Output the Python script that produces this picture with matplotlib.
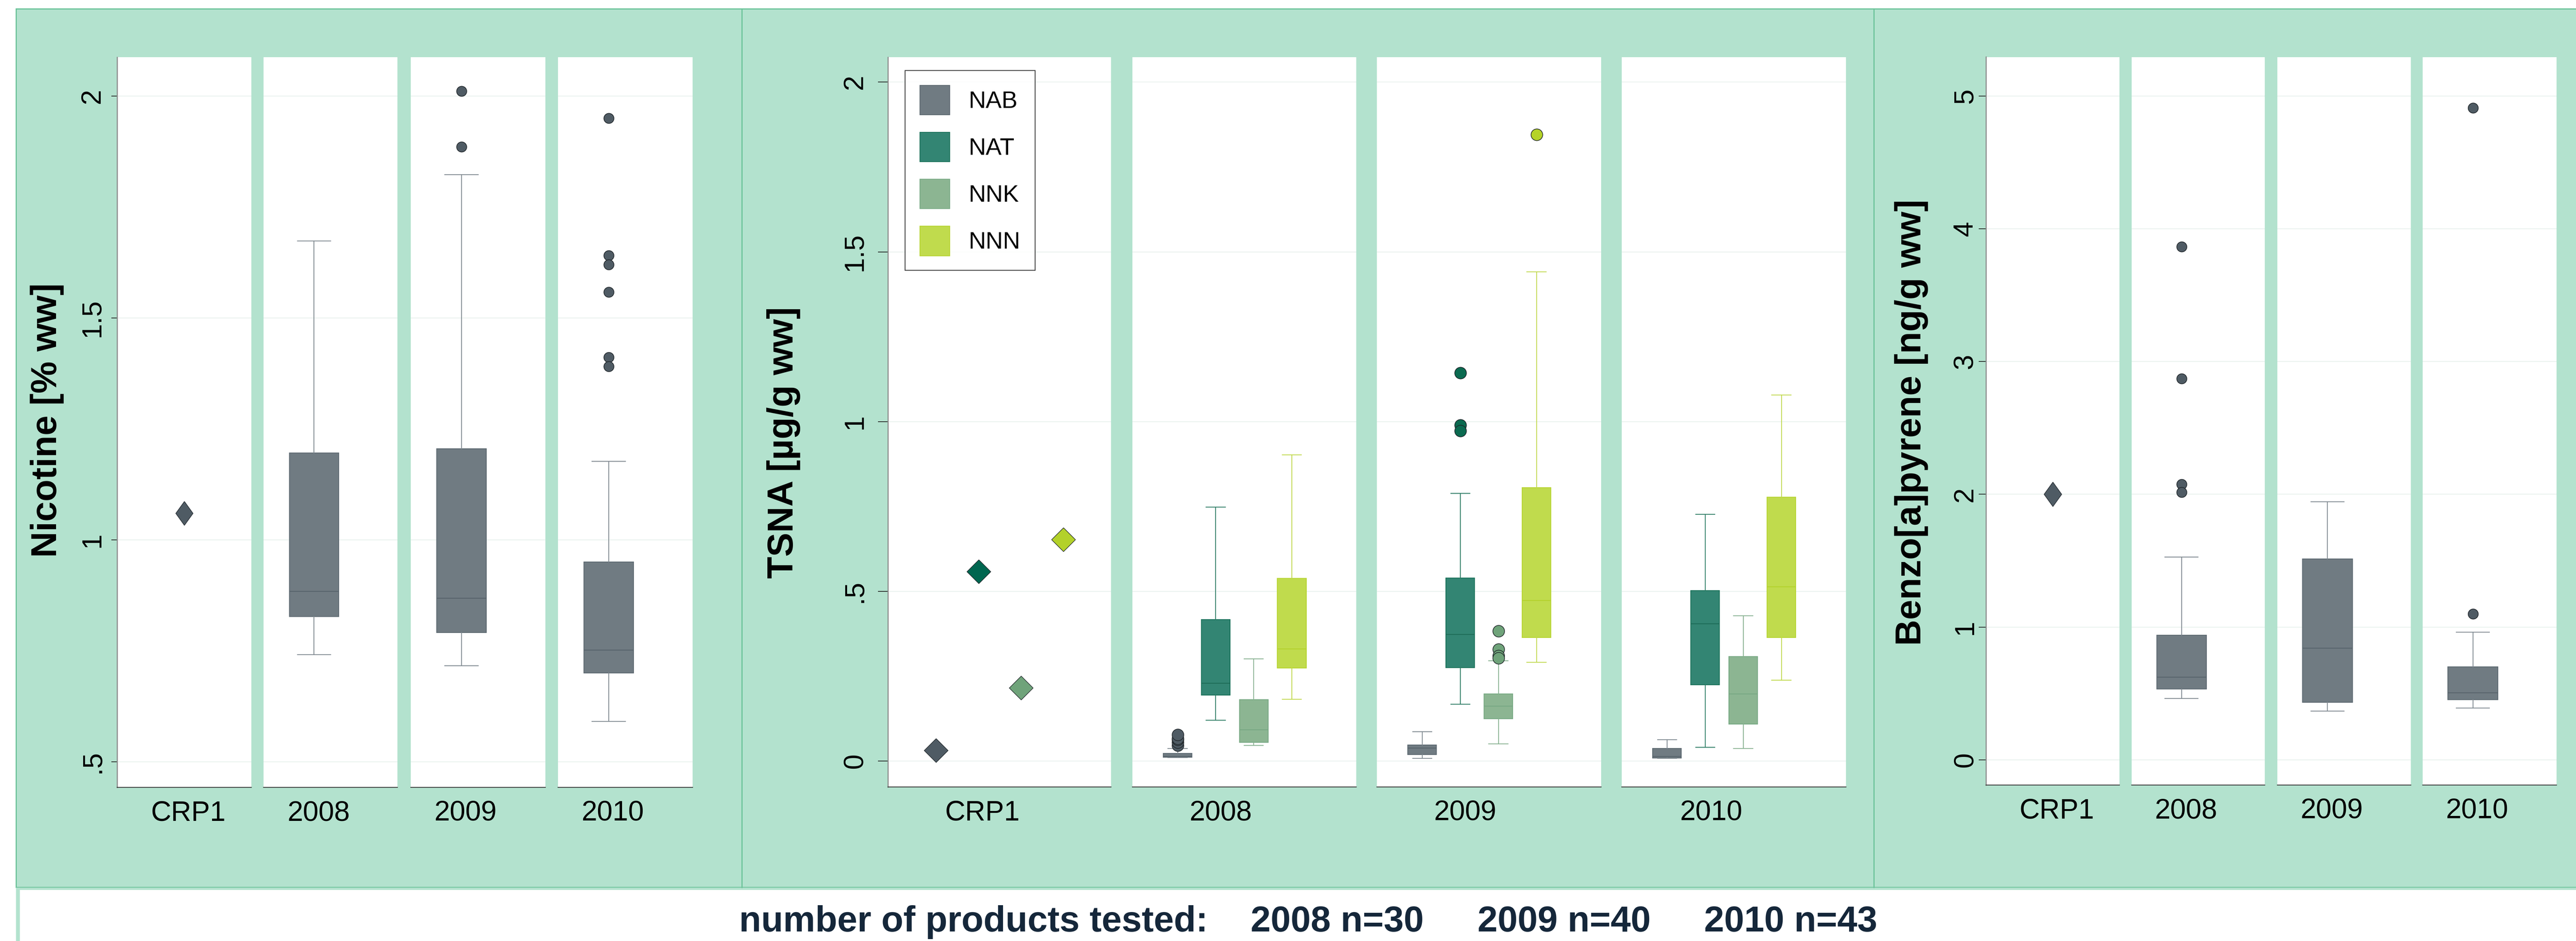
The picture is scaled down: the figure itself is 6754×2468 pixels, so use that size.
import matplotlib
matplotlib.use("Agg")
import matplotlib.pyplot as plt
from matplotlib.patches import Rectangle, Patch
from matplotlib.lines import Line2D

plt.rcParams['font.family'] = ['Liberation Sans', 'DejaVu Sans']

# ---- data -------------------------------------------------------------
groups = ["CRP1", "2008", "2009", "2010"]
sample_note = ["number of products tested:", "2008 n=30", "2009 n=40", "2010 n=43"]

# five-number boxes per year: (lower whisker, Q1, median, Q3, upper whisker)
nic_crp1 = 1.06
nic_box = [(0.741, 0.827, 0.884, 1.196, 1.673),
           (0.716, 0.791, 0.868, 1.205, 1.823),
           (0.591, 0.700, 0.751, 0.950, 1.177)]
nic_out = [[], [2.011, 1.886], [1.950, 1.641, 1.620, 1.558, 1.411, 1.391]]

tsna_names = ["NAB", "NAT", "NNK", "NNN"]
tsna_crp1 = [0.032, 0.559, 0.216, 0.653]
nab_box = [(0.010, 0.012, 0.014, 0.023, 0.037),
           (0.008, 0.020, 0.039, 0.048, 0.087),
           (0.008, 0.009, 0.014, 0.037, 0.063)]
nab_out = [[0.046, 0.055, 0.063, 0.067, 0.078], [], []]
nat_box = [(0.120, 0.195, 0.230, 0.417, 0.748),
           (0.168, 0.276, 0.373, 0.539, 0.789),
           (0.041, 0.225, 0.405, 0.502, 0.727)]
nat_out = [[], [1.144, 0.990, 0.973], []]
nnk_box = [(0.046, 0.055, 0.093, 0.181, 0.301),
           (0.051, 0.125, 0.162, 0.198, 0.296),
           (0.037, 0.109, 0.198, 0.308, 0.428)]
nnk_out = [[], [0.383, 0.329, 0.310, 0.304], []]
nnn_box = [(0.182, 0.274, 0.330, 0.538, 0.902),
           (0.291, 0.364, 0.473, 0.806, 1.441),
           (0.238, 0.364, 0.514, 0.778, 1.079)]
nnn_out = [[], [1.846], []]

bap_crp1 = 2.0
bap_box = [(0.461, 0.533, 0.624, 0.940, 1.528),
           (0.366, 0.434, 0.841, 1.514, 1.944),
           (0.389, 0.452, 0.506, 0.701, 0.963)]
bap_out = [[3.865, 2.871, 2.075, 2.016], [], [4.910, 1.099]]

# ---- styling ----------------------------------------------------------
W, H, DPI = 6754, 2468, 100
GREEN = '#b3e2ce'
GREEN_LINE = '#6cc39a'

styles = {
    'NAB': dict(fill='#707b82', edge='#5e6a72', med='#56626a', whisk='#7d878e', dot='#4f5b64'),
    'NAT': dict(fill='#338573', edge='#1d735c', med='#1d6b57', whisk='#2a7a62', dot='#0b6a50'),
    'NNK': dict(fill='#8cb592', edge='#79aa85', med='#77a783', whisk='#86b08f', dot='#6fa37a'),
    'NNN': dict(fill='#c0db4d', edge='#b7d431', med='#b3d12a', whisk='#bfd84a', dot='#b5d327'),
}
diamond_color = {'NAB': '#4f5b64', 'NAT': '#006650', 'NNK': '#6fa37a', 'NNN': '#b3d12a'}

tall_diamond = [(0, 1), (0.72, 0), (0, -1), (-0.72, 0), (0, 1)]
square_diamond = [(0, 1), (1, 0), (0, -1), (-1, 0), (0, 1)]

fig = plt.figure(figsize=(W / DPI, H / DPI), dpi=DPI, facecolor='white')


def fx(x):
    return x / W


def fy(y):
    return 1 - y / H


def cell_axes(left, right, top, bottom):
    return fig.add_axes([fx(left), fy(bottom), fx(right) - fx(left), fy(top) - fy(bottom)])


def fig_rect(x0, y0, x1, y1, **kw):
    fig.patches.append(Rectangle((fx(x0), fy(y1)), fx(x1) - fx(x0), fy(y0) - fy(y1),
                                 transform=fig.transFigure, zorder=-10, **kw))


# green backdrop, panel dividers and the note strip
fig_rect(42, 23, W + 5, 2327, facecolor=GREEN, edgecolor=GREEN_LINE, linewidth=2.2)
fig_rect(42, 2328, W + 5, 2334, facecolor=GREEN, edgecolor='none')
fig_rect(42, 2328, 52, H + 5, facecolor=GREEN, edgecolor='none')
for xd in (1945, 4913):
    fig.lines.append(Line2D([fx(xd), fx(xd)], [fy(23), fy(2327)], transform=fig.transFigure,
                            color=GREEN_LINE, linewidth=2.2, zorder=-5))


def setup_cell(ax, ylim, ticks, ticklabels, first, label, label_x, tick_len, tick_pad):
    ax.set_xlim(0, 1)
    ax.set_ylim(ylim)
    ax.set_facecolor('white')
    for s in ('top', 'right'):
        ax.spines[s].set_visible(False)
    ax.spines['left'].set_visible(first)
    ax.spines['left'].set_color('#8a8a8a')
    ax.spines['left'].set_linewidth(2.0)
    ax.spines['bottom'].set_color('#3a3a3a')
    ax.spines['bottom'].set_linewidth(1.6)
    ax.set_yticks(ticks)
    ax.yaxis.grid(True, color='#e6f0ec', linewidth=1.3)
    ax.set_axisbelow(True)
    if first:
        ax.set_yticklabels(ticklabels, rotation=90, va='center', fontsize=52)
        ax.tick_params(axis='y', length=tick_len, width=1.4, color='#222222', pad=tick_pad)
    else:
        ax.tick_params(axis='y', left=False, labelleft=False)
    ax.set_xticks([label_x])
    ax.set_xticklabels([label], fontsize=53)
    ax.tick_params(axis='x', length=0, pad=24)


def draw_box(ax, five, fliers, pos, width, st, msize):
    lo, q1, med, q3, hi = five
    stats = [dict(whislo=lo, q1=q1, med=med, q3=q3, whishi=hi, fliers=fliers)]
    ax.bxp(stats, positions=[pos], widths=[width], capwidths=[width * 0.67],
           patch_artist=True, manage_ticks=False,
           boxprops=dict(facecolor=st['fill'], edgecolor=st['edge'], linewidth=1.6),
           medianprops=dict(color=st['med'], linewidth=1.6),
           whiskerprops=dict(color=st['whisk'], linewidth=1.5),
           capprops=dict(color=st['whisk'], linewidth=1.5),
           flierprops=dict(marker='o', markerfacecolor=st['dot'], markeredgecolor='#1e2428',
                           markeredgewidth=1.2, markersize=msize))


# ---- Nicotine ---------------------------------------------------------
nic_cells = [(307, 659), (691, 1042), (1077, 1430), (1463, 1816)]
nic_label_x = [0.53, 0.41, 0.405, 0.405]
for i, (l, r) in enumerate(nic_cells):
    ax = cell_axes(l, r, 149.5, 2065)
    setup_cell(ax, (0.442, 2.088), [0.5, 1, 1.5, 2], ['.5', '1', '1.5', '2'],
               i == 0, groups[i], nic_label_x[i], 11, 11)
    if i == 0:
        ax.plot([0.5], [nic_crp1], linestyle='none', marker=tall_diamond, markersize=45,
                markerfacecolor=diamond_color['NAB'], markeredgecolor='#2b3238', markeredgewidth=1.2)
    else:
        draw_box(ax, nic_box[i - 1], nic_out[i - 1], 0.377, 0.369, styles['NAB'], 19)
fig.text(fx(124), fy(1102), 'Nicotine [% ww]', rotation=90, ha='center', va='center',
         fontsize=68, fontweight='bold')

# ---- TSNA -------------------------------------------------------------
tsna_cells = [(2328, 2913), (2969, 3556), (3610, 4198), (4252, 4840)]
tsna_label_x = [0.423, 0.394, 0.394, 0.398]
tsna_pos = [0.202, 0.372, 0.542, 0.712]
crp1_pos = [0.215, 0.406, 0.596, 0.787]
tsna_boxes = [nab_box, nat_box, nnk_box, nnn_box]
tsna_outs = [nab_out, nat_out, nnk_out, nnn_out]
for i, (l, r) in enumerate(tsna_cells):
    ax = cell_axes(l, r, 149.5, 2064)
    setup_cell(ax, (-0.076, 2.074), [0, 0.5, 1, 1.5, 2], ['0', '.5', '1', '1.5', '2'],
               i == 0, groups[i], tsna_label_x[i], 19, 19)
    for k, name in enumerate(tsna_names):
        if i == 0:
            ax.plot([crp1_pos[k]], [tsna_crp1[k]], linestyle='none', marker=square_diamond,
                    markersize=45, markerfacecolor=diamond_color[name],
                    markeredgecolor='#1e2428', markeredgewidth=1.0)
        else:
            draw_box(ax, tsna_boxes[k][i - 1], tsna_outs[k][i - 1], tsna_pos[k], 0.128,
                     styles[name], 22)
    if i == 0:
        handles = [Patch(facecolor=styles[n]['fill'], edgecolor=styles[n]['edge'], linewidth=1.5)
                   for n in tsna_names]
        leg = ax.legend(handles, tsna_names, loc='upper left',
                        bbox_to_anchor=(fx(2373), fy(185)), bbox_transform=fig.transFigure,
                        fontsize=45, frameon=True, fancybox=False, edgecolor='#111111',
                        handlelength=1.25, handleheight=1.53, labelspacing=0.73,
                        handletextpad=0.8, borderpad=0.62, borderaxespad=0)
        leg.get_frame().set_linewidth(1.6)
fig.text(fx(2054), fy(1161), 'TSNA [µg/g ww]', rotation=90, ha='center', va='center',
         fontsize=68, fontweight='bold')

# ---- Benzo[a]pyrene ---------------------------------------------------
bap_cells = [(5207, 5557), (5589, 5938), (5971, 6321), (6352, 6703)]
bap_label_x = [0.53, 0.408, 0.406, 0.406]
for i, (l, r) in enumerate(bap_cells):
    ax = cell_axes(l, r, 149.5, 2059)
    setup_cell(ax, (-0.19, 5.294), [0, 1, 2, 3, 4, 5], ['0', '1', '2', '3', '4', '5'],
               i == 0, groups[i], bap_label_x[i], 14, 1)
    if i == 0:
        ax.plot([0.5], [bap_crp1], linestyle='none', marker=tall_diamond, markersize=46,
                markerfacecolor=diamond_color['NAB'], markeredgecolor='#2b3238', markeredgewidth=1.2)
    else:
        draw_box(ax, bap_box[i - 1], bap_out[i - 1], 0.375, 0.373, styles['NAB'], 19)
fig.text(fx(5011), fy(1108), 'Benzo[a]pyrene [ng/g ww]', rotation=90, ha='center', va='center',
         fontsize=68, fontweight='bold')

# ---- sample sizes -----------------------------------------------------
for txt, x0 in zip(sample_note, [1938, 3279, 3874, 4468]):
    fig.text(fx(x0), fy(2443), txt, ha='left', va='baseline', fontsize=68,
             fontweight='bold', color='#15273a')

fig.savefig('out.png', dpi=DPI, facecolor='white')
